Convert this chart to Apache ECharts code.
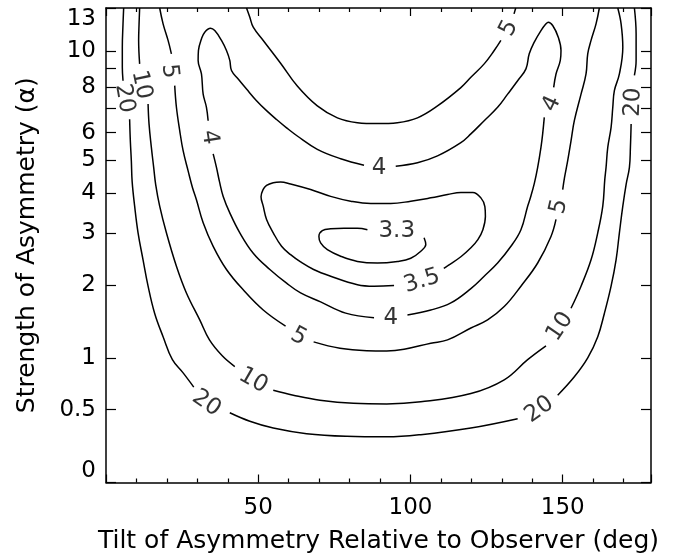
<!DOCTYPE html>
<html><head><meta charset="utf-8">
<script src="https://cdn.jsdelivr.net/npm/echarts@6/dist/echarts.min.js"></script>
<style>html,body{margin:0;padding:0;background:#fff}#c{width:677px;height:556px}</style>
</head><body><div id="c"></div>
<script>
// axis tick / label values
const xLabelValues = [50, 100, 150];
const yTickValues = [0, 0.5, 1, 2, 3, 4, 5, 6, 7, 8, 9, 10, 13];
const yLabelValues = [0, 0.5, 1, 2, 3, 4, 5, 6, 8, 10, 13];

// contour lines: segments of [tilt (deg), alpha]
const contour20 = [
  [[5.8,13],[5.59,11.82],[5.36,10.26],[5.36,9.07],[5.59,8.34]],
  [[7.76,6.54],[7.99,5.69],[8.32,4.99],[8.59,4.33],[9.41,3.65],[10.53,3.01],[12.17,2.45],[13.82,1.98],[15.99,1.56],[18.75,1.25],[21.81,0.98],[25.33,0.84],[28.82,0.70]],
  [[40.66,0.474],[47.24,0.406],[54.93,0.354],[65.89,0.312],[79.05,0.293],[92.20,0.289],[103.39,0.305],[119.84,0.354],[135.20,0.426]],
  [[148.36,0.625],[153.82,0.80],[158.22,1.00],[161.51,1.25],[163.68,1.56],[165.89,1.98],[167.53,2.45],[168.62,3.01],[169.74,3.65],[170.82,4.245],[171.91,4.77],[172.24,5.45],[172.47,6.34]],
  [[173.55,8.63],[174.11,9.46],[174.11,11.13],[173.55,13]]
];
const contour10 = [
  [[11.05,13],[10.86,11.82],[10.72,10.69],[11.05,9.26]],
  [[13.82,7.21],[14.14,6.34],[14.90,5.45],[15.66,4.77],[16.32,4.245],[17.63,3.65],[19.84,3.01],[23.13,2.33],[26.41,1.87],[30.79,1.47],[33.98,1.21],[38.26,1.02],[42.30,0.906]],
  [[54.93,0.67],[61.51,0.625],[70.26,0.58],[81.25,0.553],[92.20,0.548],[103.39,0.566],[119.84,0.64],[130.79,0.77],[138.49,0.98],[144.51,1.138]],
  [[152.73,1.635],[156.02,1.98],[159.31,2.45],[161.51,3.01],[163.16,3.65],[163.82,4.39],[164.24,4.77],[164.80,5.45],[165.89,6.21],[166.45,7.06],[166.97,7.84],[168.62,8.70],[169.74,10.26],[169.18,11.82],[168.09,13]]
];
const contour5 = [
  [[17.63,13],[18.75,11.82],[20.39,10.69],[21.48,9.85]],
  [[22.57,8.09],[23.13,7.06],[24.21,6.08],[25.33,5.33],[26.97,4.66],[28.39,4.16],[29.70,3.82],[31.91,3.24],[35.20,2.72],[39.57,2.27],[45.07,1.92],[51.64,1.61],[58.98,1.386]],
  [[68.19,1.186],[76.84,1.11],[85.63,1.082],[92.20,1.079],[97.89,1.098],[106.68,1.17],[112.17,1.21],[119.84,1.362],[125.33,1.47],[130.79,1.66],[136.28,1.98],[141.78,2.39],[146.15,2.93],[147.80,3.32]],
  [[150.0,4.10],[150.59,4.45],[151.64,4.99],[152.73,5.69],[153.82,6.48],[156.02,7.67],[157.66,8.70],[158.22,9.85],[159.31,10.69],[160.95,11.82],[162.04,13]],
  [[46.15,13],[47.24,12.30],[48.36,11.58],[51.64,10.69],[57.34,9.30],[62.83,8.07],[69.41,7.12],[75.99,6.60],[82.57,6.40],[89.14,6.36],[95.72,6.40],[102.30,6.60],[108.88,7.12],[116.55,7.99],[119.84,8.52],[124.21,9.26],[127.50,10.05],[129.70,10.69]],
  [[134.01,12.55],[134.57,13]]
];
const contour4 = [
  [[95.16,4.81],[102.30,4.92],[108.88,5.15],[116.55,5.62],[119.84,5.95],[124.21,6.48],[128.62,7.06],[131.91,7.67],[135.20,8.34],[137.93,8.98],[139.01,9.85],[140.66,10.58],[142.86,11.35],[144.51,11.82],[145.26,11.94],[146.71,11.70],[148.55,10.90],[149.44,10.05],[149.21,9.46],[147.80,8.70],[147.04,8.00]],
  [[143.95,6.62],[143.42,5.95],[142.86,5.45],[141.78,4.77],[140.66,4.27],[139.41,3.88],[138.49,3.65],[136.28,3.08],[133.0,2.72],[128.62,2.39],[124.21,2.15],[119.84,1.94],[113.26,1.715],[106.68,1.61],[99.01,1.54]],
  [[88.03,1.50],[78.72,1.565],[70.49,1.73],[63.91,1.87],[59.31,2.03],[53.82,2.27],[48.36,2.58],[43.95,3.01],[40.66,3.48],[38.49,3.91],[37.27,4.33],[36.28,4.77],[35.20,5.22]],
  [[33.55,6.48],[32.99,7.06],[31.91,7.67],[31.35,8.70],[30.26,9.46],[30.36,10.05],[31.35,10.79],[32.43,11.24],[34.31,11.51],[35.72,11.35],[37.93,10.69],[39.57,10.05],[40.66,9.46],[41.22,8.89],[43.42,8.43],[46.15,7.92],[49.44,7.36],[52.73,6.91],[56.02,6.53],[59.31,6.19],[62.83,5.87],[69.41,5.38],[77.07,5.055],[84.74,4.84]]
];
const contour35 = [
  [[110.95,2.29],[112.27,2.34],[116.55,2.51],[119.84,2.69],[122.14,2.86],[123.78,3.08],[124.61,3.39],[124.44,3.64],[123.13,3.87],[120.49,4.02],[116.55,4.02],[112.17,3.96],[106.68,3.87],[100.10,3.78],[93.52,3.72],[86.94,3.72],[80.36,3.78],[73.78,3.91],[67.20,4.10],[60.63,4.26],[57.34,4.32],[54.93,4.30],[52.73,4.22],[51.58,4.10],[50.92,3.90],[51.64,3.65],[52.73,3.32],[54.93,3.01],[57.66,2.72],[60.63,2.55],[63.91,2.41],[68.19,2.27],[73.78,2.15],[82.57,2.005],[88.03,1.98],[94.61,1.99]]
];
const contour33 = [
  [[104.47,2.90],[105.03,2.755],[103.39,2.62],[100.10,2.48],[95.72,2.42],[89.14,2.39],[82.57,2.42],[77.07,2.52],[72.70,2.65],[70.49,2.79],[69.93,2.93],[71.05,3.06],[73.78,3.10],[78.16,3.11],[82.57,3.11],[85.86,3.08]]
];

// contour labels: [text, tilt, alpha]
const contourLabels = [
  ['20', 6.02, 7.47], ['20', 32.99, 0.553], ['20', 142.30, 0.50], ['20', 173.22, 7.29],
  ['10', 11.61, 8.13], ['10', 48.36, 0.762], ['10', 149.11, 1.379],
  ['5', 20.82, 8.85], ['5', 63.26, 1.249], ['5', 148.78, 3.64], ['5', 132.34, 11.51],
  ['4', 146.48, 7.21], ['4', 93.52, 1.494], ['4', 33.98, 5.82], ['4', 89.67, 4.76],
  ['3.5', 103.78, 2.065], ['3.3', 95.49, 3.04]
];
const labelAngles = [-80, -35, 35, 88, -78, -30, 56, -84, -28, 77, 63, 65, 0, -81, 0, 17, 0];

const U = a => Math.log(1 + a);
const FONT = 'DejaVu Sans';
const axisLine = {show: true, onZero: false, lineStyle: {color: '#000', width: 1.5}};
const tickStyle = {color: '#000', width: 1.2};

const series = [];
[contour20, contour10, contour5, contour4, contour35, contour33].forEach(c => {
  c.forEach(seg => series.push({
    type: 'line', xAxisIndex: 0, yAxisIndex: 0, silent: true,
    data: seg.map(p => [p[0], U(p[1])]),
    showSymbol: false, symbol: 'none', smooth: 0.4,
    lineStyle: {color: '#000', width: 1.5}
  }));
});
series.push({
  type: 'scatter', xAxisIndex: 0, yAxisIndex: 0, silent: true, symbolSize: 0,
  data: contourLabels.map((l, i) => ({name: l[0], value: [l[1], U(l[2])], label: {rotate: labelAngles[i]}})),
  label: {show: true, position: 'inside', formatter: '{b}', color: '#000', fontFamily: FONT, fontSize: 23}
});

const chart = echarts.init(document.getElementById('c'), null, {renderer: 'canvas'});
chart.setOption({
  animation: false,
  backgroundColor: '#fff',
  grid: {left: 106, right: 26, top: 8, bottom: 73.5, containLabel: false, outerBoundsMode: 'none'},
  xAxis: [
    {type: 'value', min: 0, max: 179, interval: 50, position: 'bottom',
     axisLine: axisLine,
     axisTick: {show: true, inside: true, length: 8, lineStyle: tickStyle},
     minorTick: {show: true, splitNumber: 5, length: 4, lineStyle: tickStyle},
     splitLine: {show: false}, minorSplitLine: {show: false},
     axisLabel: {customValues: xLabelValues, margin: 14, color: '#000', fontFamily: FONT, fontSize: 23},
     name: 'Tilt of Asymmetry Relative to Observer (deg)', nameLocation: 'middle', nameGap: 46,
     nameTextStyle: {color: '#000', fontFamily: FONT, fontSize: 25}},
    {type: 'value', min: 0, max: 179, interval: 50, position: 'top',
     axisLine: axisLine,
     axisTick: {show: true, inside: true, length: 8, lineStyle: tickStyle},
     minorTick: {show: true, splitNumber: 5, length: 4, lineStyle: tickStyle},
     splitLine: {show: false}, minorSplitLine: {show: false},
     axisLabel: {show: false}}
  ],
  yAxis: [
    {type: 'value', min: 0, max: U(13), position: 'left',
     axisLine: axisLine,
     axisTick: {show: true, inside: true, length: 10, customValues: yTickValues.map(U), lineStyle: tickStyle},
     splitLine: {show: false},
     axisLabel: {customValues: yLabelValues.map(U),
       formatter: v => String(Math.round((Math.exp(v) - 1) * 10) / 10),
       margin: 10, color: '#000', fontFamily: FONT, fontSize: 23,
       verticalAlignMinLabel: 'bottom', verticalAlignMaxLabel: 'top'},
     name: 'Strength of Asymmetry (α)', nameLocation: 'middle', nameGap: 66, nameRotate: 90,
     nameTextStyle: {color: '#000', fontFamily: FONT, fontSize: 25}},
    {type: 'value', min: 0, max: U(13), position: 'right',
     axisLine: axisLine,
     axisTick: {show: true, inside: true, length: 10, customValues: yTickValues.map(U), lineStyle: tickStyle},
     splitLine: {show: false},
     axisLabel: {show: false}}
  ],
  series: series
});
</script>
</body></html>
